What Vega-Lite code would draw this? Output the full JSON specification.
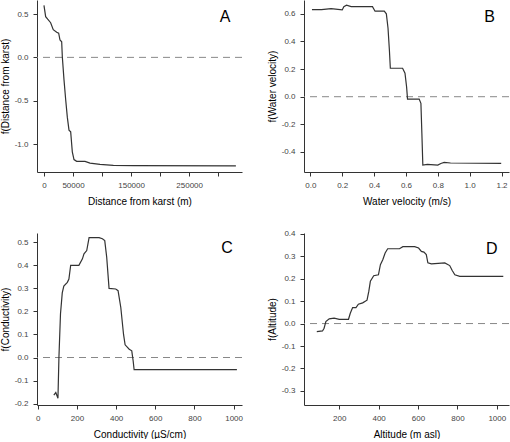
{
  "$schema": "https://vega.github.io/schema/vega-lite/v6.json",
  "padding": 0,
  "background": "white",
  "columns": 2,
  "bounds": "flush",
  "spacing": {"row": 61, "column": 62},
  "datasets": {
    "a": [
      {"x": 0, "y": 0.60}, {"x": 2900, "y": 0.47}, {"x": 6400, "y": 0.44}, {"x": 11500, "y": 0.40},
      {"x": 16000, "y": 0.32}, {"x": 21900, "y": 0.29}, {"x": 25300, "y": 0.28}, {"x": 27600, "y": 0.20},
      {"x": 30500, "y": 0.18}, {"x": 31600, "y": 0.007}, {"x": 34500, "y": -0.26}, {"x": 37400, "y": -0.49},
      {"x": 40200, "y": -0.69}, {"x": 43100, "y": -0.84}, {"x": 46000, "y": -0.86}, {"x": 47100, "y": -0.95},
      {"x": 48800, "y": -1.09}, {"x": 51700, "y": -1.18}, {"x": 56300, "y": -1.20}, {"x": 70700, "y": -1.20},
      {"x": 79300, "y": -1.22}, {"x": 96500, "y": -1.235}, {"x": 119500, "y": -1.247}, {"x": 154000, "y": -1.25},
      {"x": 330500, "y": -1.252}
    ],
    "b": [
      {"x": 0.01, "y": 0.63}, {"x": 0.07, "y": 0.63}, {"x": 0.13, "y": 0.638}, {"x": 0.20, "y": 0.628},
      {"x": 0.21, "y": 0.652}, {"x": 0.227, "y": 0.662}, {"x": 0.256, "y": 0.652}, {"x": 0.298, "y": 0.652},
      {"x": 0.39, "y": 0.652}, {"x": 0.406, "y": 0.619}, {"x": 0.464, "y": 0.619}, {"x": 0.477, "y": 0.60},
      {"x": 0.4875, "y": 0.496}, {"x": 0.496, "y": 0.34}, {"x": 0.502, "y": 0.206}, {"x": 0.579, "y": 0.206},
      {"x": 0.594, "y": 0.17}, {"x": 0.604, "y": 0.072}, {"x": 0.61, "y": -0.017}, {"x": 0.683, "y": -0.017},
      {"x": 0.694, "y": -0.048}, {"x": 0.70, "y": -0.265}, {"x": 0.706, "y": -0.495}, {"x": 0.735, "y": -0.49},
      {"x": 0.80, "y": -0.495}, {"x": 0.819, "y": -0.483}, {"x": 0.84, "y": -0.476}, {"x": 0.88, "y": -0.48},
      {"x": 1.198, "y": -0.483}
    ],
    "c": [
      {"x": 82, "y": -0.163}, {"x": 92, "y": -0.152}, {"x": 103, "y": -0.177}, {"x": 108, "y": 0.0},
      {"x": 116, "y": 0.19}, {"x": 125, "y": 0.28}, {"x": 133, "y": 0.31}, {"x": 151, "y": 0.326},
      {"x": 159, "y": 0.34}, {"x": 168, "y": 0.40}, {"x": 210, "y": 0.40}, {"x": 228, "y": 0.428},
      {"x": 236, "y": 0.45}, {"x": 250, "y": 0.464}, {"x": 262, "y": 0.52}, {"x": 313, "y": 0.52},
      {"x": 330, "y": 0.515}, {"x": 342, "y": 0.507}, {"x": 352, "y": 0.435}, {"x": 364, "y": 0.30},
      {"x": 398, "y": 0.297}, {"x": 410, "y": 0.29}, {"x": 424, "y": 0.217}, {"x": 438, "y": 0.10},
      {"x": 446, "y": 0.055}, {"x": 467, "y": 0.036}, {"x": 480, "y": 0.029}, {"x": 487, "y": -0.014},
      {"x": 492, "y": -0.053}, {"x": 1017, "y": -0.053}
    ],
    "d": [
      {"x": 86, "y": -0.036}, {"x": 115, "y": -0.033}, {"x": 123, "y": -0.021}, {"x": 132, "y": 0.009},
      {"x": 149, "y": 0.021}, {"x": 174, "y": 0.024}, {"x": 200, "y": 0.019}, {"x": 247, "y": 0.019},
      {"x": 256, "y": 0.046}, {"x": 268, "y": 0.071}, {"x": 285, "y": 0.071}, {"x": 297, "y": 0.086},
      {"x": 319, "y": 0.092}, {"x": 341, "y": 0.104}, {"x": 350, "y": 0.143}, {"x": 358, "y": 0.188},
      {"x": 375, "y": 0.213}, {"x": 399, "y": 0.217}, {"x": 409, "y": 0.262}, {"x": 421, "y": 0.284},
      {"x": 433, "y": 0.314}, {"x": 446, "y": 0.333}, {"x": 506, "y": 0.333}, {"x": 523, "y": 0.342},
      {"x": 583, "y": 0.342}, {"x": 603, "y": 0.336}, {"x": 617, "y": 0.321}, {"x": 630, "y": 0.318},
      {"x": 642, "y": 0.307}, {"x": 650, "y": 0.27}, {"x": 668, "y": 0.266}, {"x": 736, "y": 0.27},
      {"x": 761, "y": 0.258}, {"x": 773, "y": 0.237}, {"x": 787, "y": 0.217}, {"x": 812, "y": 0.21},
      {"x": 1033, "y": 0.21}
    ],
    "zero": [{"y": 0}]
  },
  "concat": [
    {
      "width": 205, "height": 172,
      "layer": [
        {"data": {"name": "zero"}, "mark": {"type": "rule", "color": "#888", "strokeDash": [7, 5], "strokeWidth": 1},
         "encoding": {"y": {"field": "y", "type": "quantitative"}}},
        {"data": {"name": "a"}, "mark": {"type": "line", "color": "#333", "strokeWidth": 1.2},
         "encoding": {
           "x": {"field": "x", "type": "quantitative", "scale": {"domain": [-12000, 341000], "nice": false, "zero": false},
                 "axis": {"title": "Distance from karst (m)", "values": [0, 50000, 100000, 150000, 200000, 250000, 300000], "format": "d",
                          "tickCount": 20, "labelOverlap": false, "labelFlush": false,
                          "labelExpr": "(datum.value % 100000 == 0 && datum.value > 0) ? '' : datum.label"}},
           "y": {"field": "y", "type": "quantitative", "scale": {"domain": [-1.323, 0.662], "nice": false, "zero": false},
                 "axis": {"title": "f(Distance from karst)", "values": [-1.0, -0.5, 0.0, 0.5], "format": ".1f",
                          "tickCount": 20, "labelOverlap": false, "labelFlush": false,
                          "labelExpr": "replace(datum.label, '\u2212', '-')"}}
         }},
        {"data": {"values": [{}]}, "mark": {"type": "text", "text": "A", "fontSize": 16, "color": "#000"},
         "encoding": {"x": {"datum": 312000}, "y": {"datum": 0.465}}}
      ]
    },
    {
      "width": 205, "height": 172,
      "layer": [
        {"data": {"name": "zero"}, "mark": {"type": "rule", "color": "#888", "strokeDash": [7, 5], "strokeWidth": 1},
         "encoding": {"y": {"field": "y", "type": "quantitative"}}},
        {"data": {"name": "b"}, "mark": {"type": "line", "color": "#333", "strokeWidth": 1.2},
         "encoding": {
           "x": {"field": "x", "type": "quantitative", "scale": {"domain": [-0.04, 1.247], "nice": false, "zero": false},
                 "axis": {"title": "Water velocity (m/s)", "values": [0, 0.2, 0.4, 0.6, 0.8, 1.0, 1.2], "format": ".1f",
                          "tickCount": 20, "labelOverlap": false, "labelFlush": false}},
           "y": {"field": "y", "type": "quantitative", "scale": {"domain": [-0.545, 0.70], "nice": false, "zero": false},
                 "axis": {"title": "f(Water velocity)", "values": [-0.4, -0.2, 0.0, 0.2, 0.4, 0.6], "format": ".1f",
                          "tickCount": 20, "labelOverlap": false, "labelFlush": false,
                          "labelExpr": "replace(datum.label, '\u2212', '-')"}}
         }},
        {"data": {"values": [{}]}, "mark": {"type": "text", "text": "B", "fontSize": 16, "color": "#000"},
         "encoding": {"x": {"datum": 1.125}, "y": {"datum": 0.578}}}
      ]
    },
    {
      "width": 205, "height": 172,
      "layer": [
        {"data": {"name": "zero"}, "mark": {"type": "rule", "color": "#888", "strokeDash": [7, 5], "strokeWidth": 1},
         "encoding": {"y": {"field": "y", "type": "quantitative"}}},
        {"data": {"name": "c"}, "mark": {"type": "line", "color": "#333", "strokeWidth": 1.2},
         "encoding": {
           "x": {"field": "x", "type": "quantitative", "scale": {"domain": [-4, 1043], "nice": false, "zero": false},
                 "axis": {"title": "Conductivity (µS/cm)", "values": [0, 200, 400, 600, 800, 1000], "format": "d",
                          "tickCount": 20, "labelOverlap": false, "labelFlush": false}},
           "y": {"field": "y", "type": "quantitative", "scale": {"domain": [-0.206, 0.54], "nice": false, "zero": false},
                 "axis": {"title": "f(Conductivity)", "values": [-0.2, -0.1, 0.0, 0.1, 0.2, 0.3, 0.4, 0.5], "format": ".1f",
                          "tickCount": 20, "labelOverlap": false, "labelFlush": false,
                          "labelExpr": "replace(datum.label, '\u2212', '-')"}}
         }},
        {"data": {"values": [{}]}, "mark": {"type": "text", "text": "C", "fontSize": 16, "color": "#000"},
         "encoding": {"x": {"datum": 966}, "y": {"datum": 0.473}}}
      ]
    },
    {
      "width": 205, "height": 172,
      "layer": [
        {"data": {"name": "zero"}, "mark": {"type": "rule", "color": "#888", "strokeDash": [7, 5], "strokeWidth": 1},
         "encoding": {"y": {"field": "y", "type": "quantitative"}}},
        {"data": {"name": "d"}, "mark": {"type": "line", "color": "#333", "strokeWidth": 1.2},
         "encoding": {
           "x": {"field": "x", "type": "quantitative", "scale": {"domain": [21, 1062], "nice": false, "zero": false},
                 "axis": {"title": "Altitude (m asl)", "values": [200, 400, 600, 800, 1000], "format": "d",
                          "tickCount": 20, "labelOverlap": false, "labelFlush": false}},
           "y": {"field": "y", "type": "quantitative", "scale": {"domain": [-0.3625, 0.403], "nice": false, "zero": false},
                 "axis": {"title": "f(Altitude)", "values": [-0.3, -0.2, -0.1, 0.0, 0.1, 0.2, 0.3, 0.4], "format": ".1f",
                          "tickCount": 20, "labelOverlap": false, "labelFlush": false,
                          "labelExpr": "replace(datum.label, '\u2212', '-')"}}
         }},
        {"data": {"values": [{}]}, "mark": {"type": "text", "text": "D", "fontSize": 16, "color": "#000"},
         "encoding": {"x": {"datum": 975}, "y": {"datum": 0.33}}}
      ]
    }
  ],
  "config": {
    "view": {"stroke": null},
    "font": "Liberation Sans",
    "axis": {
      "grid": false, "domainColor": "#333", "tickColor": "#333", "tickSize": 4, "domainWidth": 1,
      "labelFontSize": 8, "labelColor": "#444", "labelPadding": 5, "labelFlush": false, "labelOverlap": false,
      "titleFontSize": 10, "titleFontWeight": "normal", "titleColor": "#000"
    },
    "axisY": {"titlePadding": 4},
    "axisX": {"titlePadding": 7}
  }
}
